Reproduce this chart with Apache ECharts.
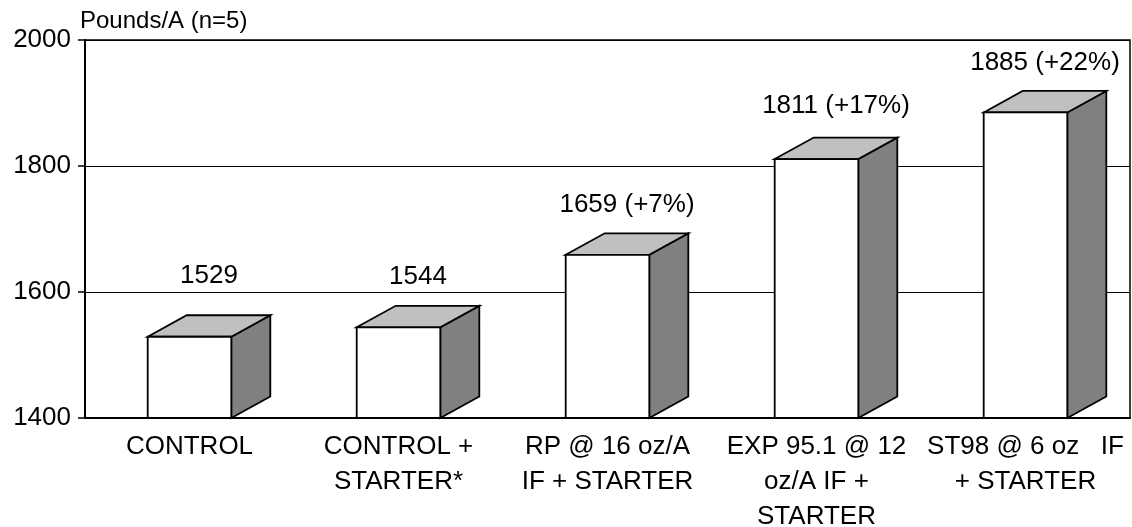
<!DOCTYPE html>
<html>
<head>
<meta charset="utf-8">
<script src="https://cdn.jsdelivr.net/npm/echarts@6/dist/echarts.min.js"></script>
<style>
  html, body { margin: 0; padding: 0; background: #fff; }
  #chart { width: 1132px; height: 527px; }
</style>
</head>
<body>
<div id="chart"></div>
<script>
// categories along the x axis (multi-line as in the original)
const categories = [
  'CONTROL',
  'CONTROL +\nSTARTER*',
  'RP @ 16 oz/A\nIF + STARTER',
  'EXP 95.1 @ 12\noz/A IF +\nSTARTER',
  'ST98 @ 6 oz   IF\n+ STARTER'
]
// yield, pounds per acre
const yields = [1529, 1544, 1659, 1811, 1885]
// text shown above each bar
const barLabels = ['1529', '1544', '1659 (+7%)', '1811 (+17%)', '1885 (+22%)']
const yTicks = { min: 1400, max: 2000, interval: 200 }

const FONT = 'Liberation Sans, Arial, sans-serif'
// 3d box look
const DEPTH_X = 39
const DEPTH_Y = 21.5
const labelLift = [39, 29, 29, 32, 28]

const chart = echarts.init(document.getElementById('chart'), null, { renderer: 'canvas' })

function renderBox(params, api) {
  const i = api.value(0)
  const top = api.coord([i, api.value(1)])
  const base = api.coord([i, yTicks.min])
  const w = api.size([1, 0])[0] * 0.4
  const xl = top[0] - w / 2
  const xr = top[0] + w / 2
  const yt = top[1]
  const yb = base[1]
  const stroke = { stroke: '#000', lineWidth: 1.8, lineJoin: 'miter' }
  return {
    type: 'group',
    children: [
      {
        type: 'polygon',
        shape: { points: [[xr, yt], [xr + DEPTH_X, yt - DEPTH_Y], [xr + DEPTH_X, yb - DEPTH_Y], [xr, yb]] },
        style: Object.assign({ fill: '#808080' }, stroke)
      },
      {
        type: 'polygon',
        shape: { points: [[xl, yt], [xl + DEPTH_X, yt - DEPTH_Y], [xr + DEPTH_X, yt - DEPTH_Y], [xr, yt]] },
        style: Object.assign({ fill: '#c0c0c0' }, stroke)
      },
      {
        type: 'rect',
        shape: { x: xl, y: yt, width: w, height: yb - yt },
        style: Object.assign({ fill: '#fff' }, stroke)
      },
      {
        type: 'text',
        x: top[0] + DEPTH_X / 2,
        y: yt - DEPTH_Y - labelLift[i],
        style: {
          text: barLabels[i],
          fill: '#000',
          font: '26px ' + FONT,
          align: 'center',
          verticalAlign: 'middle'
        }
      }
    ]
  }
}

chart.setOption({
  backgroundColor: '#fff',
  animation: false,
  textStyle: { fontFamily: FONT },
  grid: {
    left: 85, right: 2, top: 40, bottom: 109,
    outerBoundsMode: 'none',
    containLabel: false,
    show: true, borderColor: '#000', borderWidth: 1.5, backgroundColor: 'transparent'
  },
  graphic: [
    {
      type: 'text',
      left: 80,
      top: 9,
      style: { text: 'Pounds/A (n=5)', fill: '#000', font: '24px ' + FONT }
    }
  ],
  xAxis: {
    type: 'category',
    data: categories,
    axisLine: { lineStyle: { color: '#000', width: 2 } },
    axisTick: { length: 6, lineStyle: { color: '#000', width: 1.5 } },
    axisLabel: {
      interval: 0,
      color: '#000',
      fontSize: 26,
      lineHeight: 35,
      margin: 11,
      align: 'center'
    },
    splitLine: { show: false }
  },
  yAxis: {
    type: 'value',
    min: yTicks.min,
    max: yTicks.max,
    interval: yTicks.interval,
    axisLine: { show: true, lineStyle: { color: '#000', width: 2 } },
    axisTick: { show: true, length: 7, lineStyle: { color: '#000', width: 1.5 } },
    axisLabel: { color: '#000', fontSize: 26, margin: 14, formatter: v => String(v) },
    splitLine: { lineStyle: { color: '#000', width: 1.2 } }
  },
  series: [
    {
      type: 'custom',
      renderItem: renderBox,
      encode: { x: 0, y: 1 },
      data: yields.map((v, i) => [i, v]),
      clip: false
    }
  ]
})
</script>
</body>
</html>
